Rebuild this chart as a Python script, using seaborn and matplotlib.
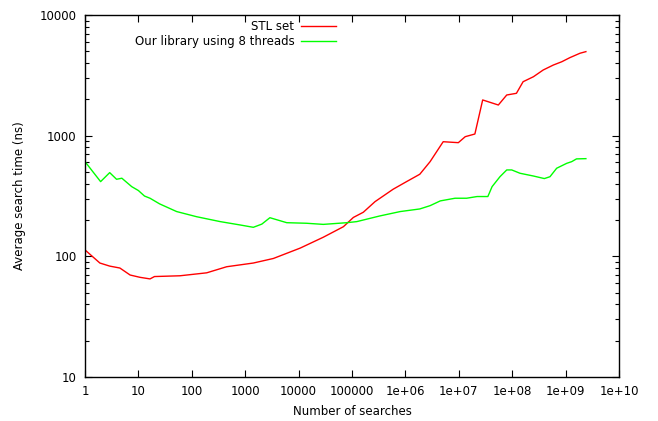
import numpy as np
import pandas as pd
import matplotlib
matplotlib.use("Agg")
import matplotlib.pyplot as plt
import matplotlib.ticker as mticker
import seaborn as sns

# ---- data ----
stl_x = [1, 1.9, 2.9, 4.5, 7, 10.7, 16.5, 20, 60, 190, 450, 1420, 3370, 10700,
         29000, 69000, 106000, 163000, 270000, 590000, 1.05e6, 1.86e6, 2.9e6,
         5.1e6, 9.8e6, 1.32e7, 2.0e7, 2.8e7, 5.5e7, 7.9e7, 1.2e8, 1.6e8, 2.5e8,
         3.8e8, 5.9e8, 8.5e8, 1.2e9, 1.86e9, 2.4e9]
stl_y = [113, 88, 83, 80, 70, 67, 65, 68, 69, 73, 82, 88, 96, 117,
         144, 176, 210, 232, 284, 360, 416, 479, 609,
         891, 875, 981, 1032, 1977, 1795, 2173, 2244, 2800, 3080,
         3500, 3850, 4100, 4430, 4820, 4970]

lib_x = [1, 1.96, 2.9, 3.9, 4.9, 7.5, 10, 13, 16.5, 25, 52, 123, 340, 800, 1420,
         2050, 2900, 6000, 14000, 29000, 80000, 123000, 330000, 800000, 1.86e6,
         2.9e6, 4.5e6, 8.5e6, 1.4e7, 2.2e7, 3.5e7, 4.2e7, 5.9e7, 7.9e7, 9.8e7,
         1.4e8, 2.5e8, 4.0e8, 5.1e8, 6.8e8, 1.05e9, 1.3e9, 1.6e9, 2.4e9]
lib_y = [609, 416, 494, 435, 444, 378, 351, 316, 303, 272, 235, 213, 194, 182, 174,
         185, 209, 190, 188, 184, 190, 194, 216, 235, 247,
         263, 288, 303, 303, 313, 313, 378, 457, 520, 520,
         488, 463, 441, 457, 537, 590, 609, 642, 645]

series_names = ["STL set", "Our library using 8 threads"]
series_colors = ["#ff0000", "#00ff00"]

x_ticks = [1, 10, 100, 1000, 10000, 100000, 1e6, 1e7, 1e8, 1e9, 1e10]
x_tick_labels = ["1", "10", "100", "1000", "10000", "100000",
                 "1e+06", "1e+07", "1e+08", "1e+09", "1e+10"]
y_ticks = [10, 100, 1000, 10000]
y_tick_labels = ["10", "100", "1000", "10000"]

df = pd.concat([
    pd.DataFrame({"x": stl_x, "y": stl_y, "series": series_names[0]}),
    pd.DataFrame({"x": lib_x, "y": lib_y, "series": series_names[1]}),
], ignore_index=True)

plt.rcParams["font.family"] = ["DejaVu Sans"]
fig = plt.figure(figsize=(6.58, 4.21), dpi=100)
ax = fig.add_axes([85 / 658, 1 - 377 / 421, (619 - 85) / 658, (377 - 15) / 421])

sns.lineplot(data=df, x="x", y="y", hue="series", hue_order=series_names,
             palette=series_colors, linewidth=1.0, ax=ax, legend=True,
             estimator=None, sort=False)

ax.set_xscale("log")
ax.set_yscale("log")
ax.set_xlim(1, 1e10)
ax.set_ylim(10, 10000)

ax.xaxis.set_major_locator(mticker.FixedLocator(x_ticks))
ax.xaxis.set_major_formatter(mticker.FixedFormatter(x_tick_labels))
ax.xaxis.set_minor_locator(mticker.NullLocator())
ax.yaxis.set_major_locator(mticker.FixedLocator(y_ticks))
ax.yaxis.set_major_formatter(mticker.FixedFormatter(y_tick_labels))
ax.yaxis.set_minor_locator(mticker.LogLocator(base=10, subs=np.arange(2, 10)))
ax.yaxis.set_minor_formatter(mticker.NullFormatter())

ax.tick_params(which="both", direction="in", top=True, right=True,
               labelsize=8.5, colors="black", width=0.8)
ax.tick_params(which="major", length=5, pad=6)
ax.tick_params(which="minor", length=3)
for s in ax.spines.values():
    s.set_linewidth(1.0)
    s.set_color("black")

ax.set_xlabel("Number of searches", fontsize=8.5, labelpad=5)
ax.set_ylabel("Average search time (ns)", fontsize=8.5, labelpad=10)

handles, labels = ax.get_legend_handles_labels()
leg = ax.legend(handles, labels, loc="upper right", bbox_to_anchor=(0.487, 1.012),
                frameon=False, markerfirst=False, fontsize=8.5,
                handlelength=2.9, handletextpad=0.6, labelspacing=0.2,
                borderpad=0.3)

fig.savefig("out.png", dpi=100)
